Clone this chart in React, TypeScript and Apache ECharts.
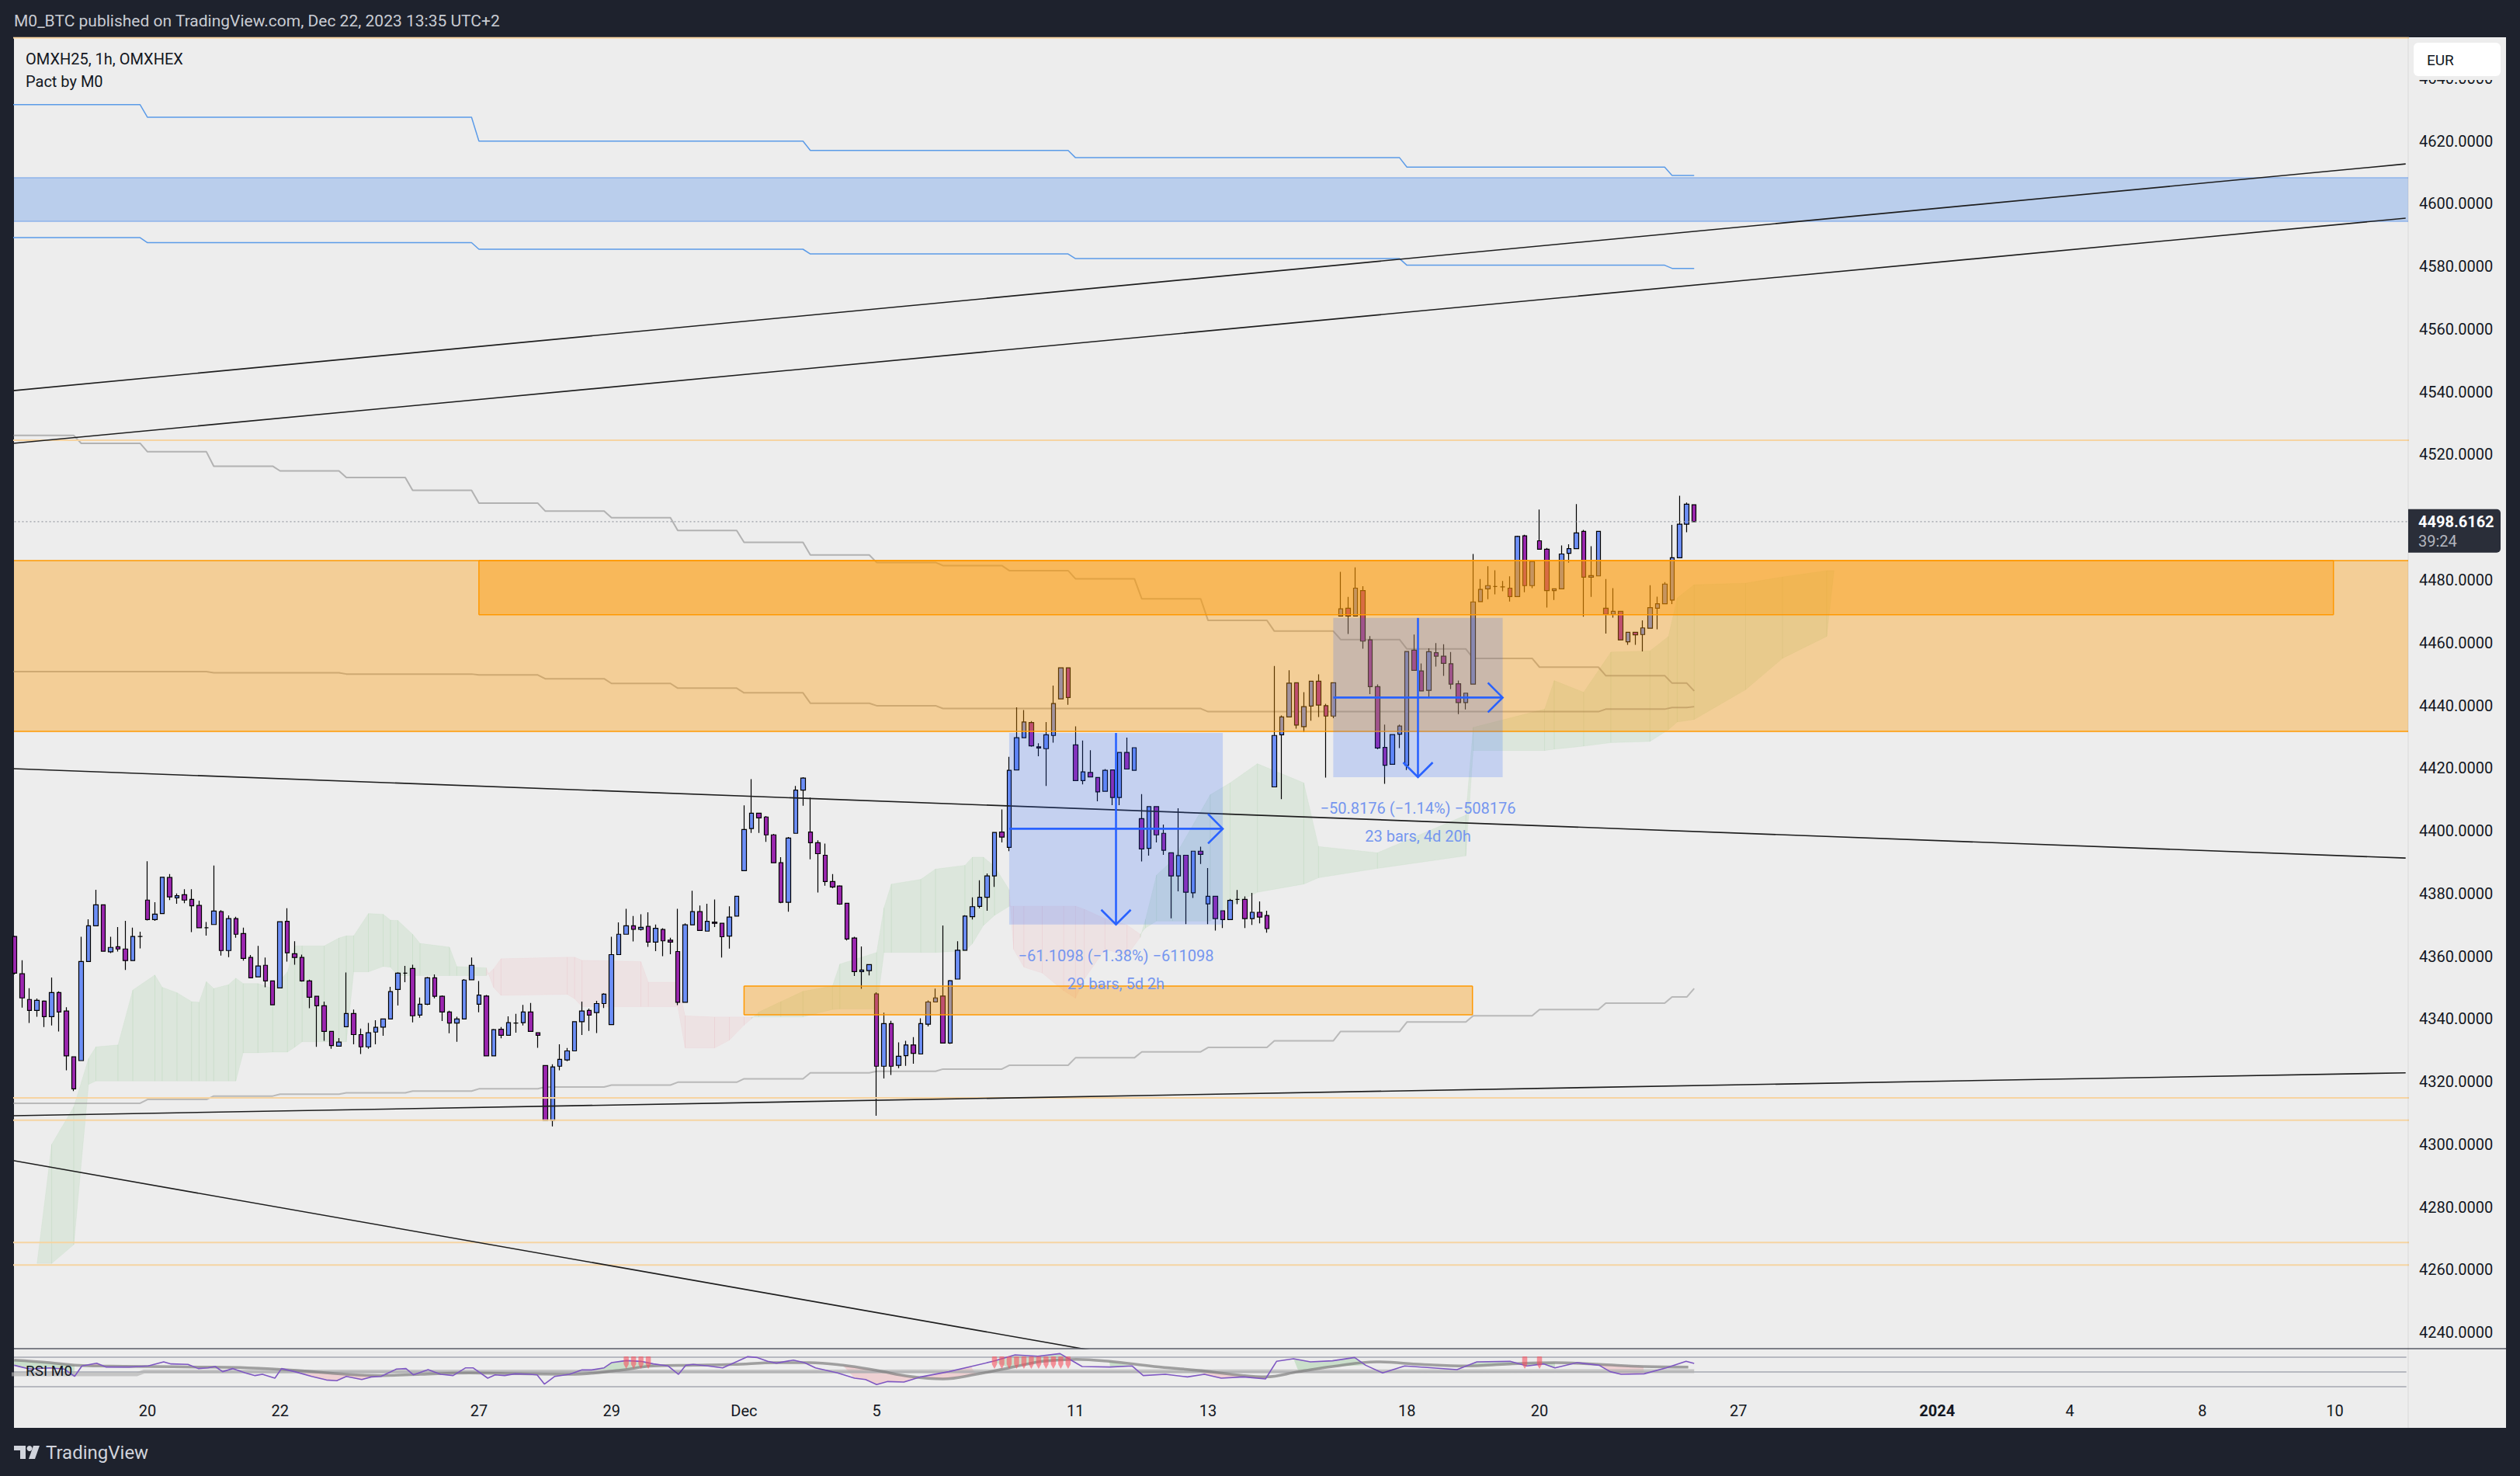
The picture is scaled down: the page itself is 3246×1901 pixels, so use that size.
import React, { useEffect, useRef } from "react";
import * as echarts from "echarts";

// ---------------- data ----------------
const tradingDays = [
  "2023-11-16", "2023-11-17", "2023-11-20", "2023-11-21", "2023-11-22", "2023-11-23", "2023-11-24",
  "2023-11-27", "2023-11-28", "2023-11-29", "2023-11-30", "2023-12-01", "2023-12-04", "2023-12-05",
  "2023-12-07", "2023-12-08", "2023-12-11", "2023-12-12", "2023-12-13", "2023-12-14", "2023-12-15",
  "2023-12-18", "2023-12-19", "2023-12-20", "2023-12-21", "2023-12-22", "2023-12-27", "2023-12-28",
  "2023-12-29", "2024-01-02", "2024-01-03", "2024-01-04", "2024-01-05", "2024-01-08", "2024-01-09",
  "2024-01-10", "2024-01-11",
];
const BARS_PER_DAY = 9; // 10:00 .. 18:00 hourly bars
const tickDays = [
  "2023-11-20", "2023-11-22", "2023-11-27", "2023-11-29", "2023-12-01", "2023-12-05", "2023-12-11",
  "2023-12-13", "2023-12-18", "2023-12-20", "2023-12-27", "2024-01-02", "2024-01-04", "2024-01-08", "2024-01-10",
];
const tickLabels = ["20", "22", "27", "29", "Dec", "5", "11", "13", "18", "20", "27", "2024", "4", "8", "10"];
const priceTicks = [4240, 4260, 4280, 4300, 4320, 4340, 4360, 4380, 4400, 4420, 4440, 4460, 4480, 4500, 4520, 4540, 4560, 4580, 4600, 4620, 4640];

// hourly candles from Nov 16 10:00: [open, close, low, high]
const ohlc: number[][] = [
  [4366.3, 4354.6, 4354.2, 4366.5], [4354.4, 4346.7, 4343.6, 4358.7], [4346.2, 4342.7, 4338.7, 4349.8],
  [4342.7, 4345.9, 4340.7, 4346.5], [4345.7, 4340.7, 4337.4, 4345.9], [4340.7, 4348.4, 4337.9, 4353.2],
  [4348.4, 4342.2, 4336.0, 4348.8], [4342.5, 4328.2, 4323.6, 4343.7], [4327.9, 4317.7, 4317.0, 4328.0],
  [4326.7, 4358.3, 4326.7, 4366.2], [4358.3, 4369.7, 4358.3, 4371.8], [4369.7, 4376.4, 4369.7, 4381.2],
  [4376.4, 4361.6, 4361.6, 4376.4], [4361.4, 4362.8, 4361.0, 4366.2], [4363.0, 4362.3, 4361.5, 4369.3],
  [4362.3, 4358.6, 4355.6, 4371.3], [4358.6, 4366.3, 4358.6, 4369.1], [4366.3, 4366.3, 4362.5, 4367.8],
  [4377.9, 4371.7, 4371.4, 4390.3], [4371.7, 4373.4, 4371.3, 4377.2], [4373.6, 4385.2, 4373.6, 4385.3],
  [4385.1, 4378.9, 4377.9, 4386.2], [4378.6, 4379.3, 4376.7, 4380.0], [4379.6, 4377.9, 4376.9, 4381.4],
  [4378.1, 4376.1, 4367.7, 4381.4], [4376.2, 4369.1, 4369.1, 4377.7], [4369.1, 4369.1, 4366.6, 4370.9],
  [4370.1, 4374.4, 4370.1, 4388.9], [4374.2, 4361.8, 4360.2, 4374.7], [4361.8, 4372.0, 4359.7, 4373.0],
  [4372.0, 4367.0, 4365.9, 4372.6], [4367.2, 4359.3, 4358.6, 4369.1], [4359.6, 4353.1, 4353.1, 4360.4],
  [4353.4, 4356.9, 4353.4, 4363.3], [4357.1, 4352.1, 4350.1, 4359.6], [4352.1, 4344.5, 4344.5, 4352.1],
  [4349.9, 4371.0, 4349.9, 4371.0], [4371.1, 4361.1, 4358.3, 4375.3], [4360.8, 4359.6, 4357.3, 4364.8],
  [4359.6, 4352.1, 4351.9, 4360.5], [4352.1, 4346.9, 4343.4, 4352.5], [4347.2, 4344.2, 4331.1, 4347.2],
  [4344.2, 4336.0, 4333.0, 4345.5], [4336.0, 4331.5, 4330.5, 4336.0], [4331.3, 4332.6, 4331.3, 4333.9],
  [4337.5, 4341.7, 4337.5, 4354.8], [4341.7, 4335.0, 4331.9, 4343.0], [4335.0, 4331.1, 4328.8, 4336.9],
  [4331.1, 4335.6, 4330.5, 4338.7], [4335.8, 4337.3, 4331.9, 4339.6], [4337.4, 4340.0, 4334.6, 4340.0],
  [4340.0, 4348.7, 4340.0, 4350.2], [4349.4, 4354.6, 4344.3, 4354.9], [4354.6, 4354.6, 4351.7, 4356.9],
  [4356.1, 4341.0, 4338.9, 4357.3], [4341.2, 4344.7, 4340.4, 4346.8], [4344.7, 4353.1, 4344.4, 4353.4],
  [4353.1, 4347.2, 4346.6, 4354.2], [4347.2, 4342.2, 4339.3, 4347.5], [4342.2, 4338.7, 4335.4, 4342.6],
  [4338.7, 4340.0, 4332.7, 4340.7], [4340.0, 4352.4, 4340.0, 4352.7], [4352.5, 4357.1, 4352.5, 4359.6],
  [4344.7, 4347.6, 4342.1, 4352.1], [4347.3, 4328.2, 4328.2, 4347.6], [4328.2, 4336.6, 4328.2, 4336.8],
  [4336.7, 4334.8, 4333.8, 4337.4], [4334.8, 4338.8, 4334.8, 4340.8], [4338.7, 4338.7, 4335.6, 4341.6],
  [4338.8, 4342.2, 4337.9, 4344.5], [4342.2, 4336.0, 4336.0, 4345.1], [4335.6, 4334.8, 4330.8, 4335.6],
  [4325.1, 4307.6, 4307.6, 4325.1], [4307.6, 4324.7, 4305.7, 4325.5], [4324.9, 4327.1, 4323.6, 4331.9],
  [4326.9, 4329.8, 4326.5, 4330.7], [4329.8, 4339.1, 4329.8, 4339.1], [4339.1, 4342.5, 4334.9, 4345.5],
  [4342.7, 4341.2, 4336.2, 4343.3], [4342.0, 4344.9, 4335.5, 4345.8], [4344.9, 4347.9, 4343.5, 4348.2],
  [4338.2, 4360.5, 4338.2, 4366.2], [4360.5, 4367.0, 4360.5, 4370.8], [4367.0, 4369.7, 4367.0, 4375.1],
  [4369.7, 4368.6, 4364.7, 4372.8], [4368.6, 4369.2, 4368.2, 4373.4], [4369.5, 4364.5, 4363.0, 4374.0],
  [4364.5, 4368.9, 4361.6, 4370.1], [4368.5, 4364.9, 4360.0, 4368.9], [4365.1, 4364.5, 4360.6, 4365.9],
  [4361.5, 4345.3, 4344.4, 4375.1], [4345.3, 4370.0, 4345.3, 4370.5], [4370.0, 4374.2, 4370.0, 4380.9],
  [4374.2, 4368.2, 4368.2, 4376.2], [4368.0, 4371.1, 4368.0, 4376.7], [4370.9, 4370.5, 4369.3, 4378.1],
  [4370.5, 4366.2, 4359.6, 4370.5], [4366.4, 4372.5, 4362.4, 4375.9], [4372.8, 4379.1, 4372.8, 4379.1],
  [4387.3, 4400.4, 4387.3, 4408.1], [4400.7, 4405.6, 4399.3, 4416.5], [4405.6, 4404.1, 4399.3, 4405.6],
  [4404.4, 4398.7, 4396.5, 4404.7], [4398.7, 4389.8, 4389.8, 4399.0], [4389.8, 4377.2, 4376.9, 4391.6],
  [4377.2, 4397.7, 4374.2, 4398.0], [4399.2, 4413.0, 4399.2, 4414.3], [4413.0, 4416.8, 4408.0, 4417.1],
  [4399.6, 4396.2, 4390.9, 4410.6], [4396.2, 4392.7, 4380.3, 4397.0], [4392.2, 4383.8, 4382.5, 4395.9],
  [4383.8, 4382.1, 4381.7, 4386.2], [4382.4, 4376.6, 4376.4, 4382.6], [4376.9, 4365.5, 4365.0, 4376.9],
  [4365.8, 4355.1, 4353.7, 4366.2], [4355.1, 4355.6, 4349.6, 4363.1], [4355.4, 4357.3, 4353.9, 4357.3],
  [4348.0, 4324.9, 4309.1, 4348.5], [4324.9, 4338.5, 4321.0, 4342.0], [4338.5, 4324.9, 4322.1, 4339.4],
  [4325.2, 4328.1, 4324.3, 4332.5], [4328.3, 4331.7, 4325.0, 4333.0], [4331.7, 4329.0, 4325.7, 4334.2],
  [4328.8, 4338.5, 4328.8, 4340.2], [4338.3, 4345.4, 4337.6, 4345.9], [4345.4, 4346.7, 4345.4, 4349.7],
  [4347.3, 4332.3, 4332.3, 4369.8], [4332.3, 4352.2, 4332.0, 4352.4], [4352.7, 4361.9, 4352.7, 4364.8],
  [4361.9, 4372.8, 4361.9, 4373.1], [4372.6, 4375.8, 4371.7, 4378.8], [4375.9, 4378.8, 4375.3, 4384.2],
  [4378.8, 4385.6, 4374.5, 4386.4], [4385.6, 4399.5, 4382.1, 4399.5], [4399.6, 4398.0, 4396.3, 4406.8],
  [4394.7, 4419.3, 4393.5, 4423.6], [4419.4, 4429.7, 4419.4, 4439.4], [4429.7, 4434.7, 4429.7, 4438.5],
  [4434.5, 4427.1, 4426.8, 4435.0], [4426.8, 4426.4, 4423.8, 4427.9], [4426.2, 4430.6, 4414.3, 4434.7],
  [4430.4, 4440.6, 4428.1, 4446.3], [4442.1, 4452.0, 4442.1, 4452.0], [4452.0, 4442.5, 4440.2, 4452.0],
  [4427.4, 4416.0, 4416.0, 4433.3], [4416.0, 4418.8, 4414.8, 4428.8], [4418.6, 4417.2, 4417.2, 4425.7],
  [4417.0, 4412.4, 4409.4, 4417.0], [4412.6, 4419.3, 4412.6, 4419.7], [4419.4, 4410.6, 4408.2, 4419.4],
  [4410.6, 4425.0, 4408.2, 4425.0], [4425.0, 4419.7, 4419.7, 4429.7], [4419.3, 4426.5, 4419.3, 4426.5],
  [4403.9, 4394.2, 4390.2, 4411.7], [4394.4, 4407.7, 4392.1, 4407.7], [4407.7, 4398.7, 4396.3, 4407.7],
  [4399.2, 4393.8, 4392.3, 4402.0], [4393.0, 4385.6, 4372.1, 4393.0], [4385.6, 4392.1, 4380.7, 4407.2],
  [4392.2, 4380.4, 4370.2, 4392.2], [4380.2, 4393.5, 4378.6, 4393.5], [4393.5, 4392.5, 4389.4, 4394.9],
  [4376.7, 4379.1, 4370.2, 4388.1], [4379.1, 4372.0, 4368.2, 4379.1], [4374.5, 4371.7, 4369.0, 4374.5],
  [4371.7, 4377.8, 4371.5, 4378.3], [4378.1, 4378.1, 4376.6, 4381.1], [4378.1, 4372.0, 4369.0, 4379.1],
  [4372.0, 4374.0, 4370.0, 4380.2], [4374.0, 4372.5, 4370.5, 4377.5], [4373.0, 4368.8, 4367.5, 4374.5],
  [4414.0, 4430.4, 4414.0, 4452.6], [4430.6, 4436.3, 4410.1, 4436.8], [4436.3, 4447.1, 4436.3, 4451.2],
  [4447.2, 4433.7, 4432.6, 4447.2], [4433.2, 4439.6, 4431.5, 4444.2], [4439.8, 4447.7, 4435.1, 4447.7],
  [4447.7, 4440.1, 4436.3, 4449.9], [4439.9, 4436.6, 4417.0, 4440.5], [4436.6, 4447.2, 4435.9, 4447.2],
  [4468.5, 4470.8, 4468.5, 4482.6], [4471.0, 4468.5, 4462.8, 4474.6], [4468.5, 4477.4, 4468.5, 4484.0],
  [4476.6, 4460.5, 4458.1, 4478.0], [4460.9, 4446.0, 4443.6, 4462.1], [4446.0, 4426.4, 4426.0, 4446.7],
  [4426.6, 4420.9, 4415.0, 4433.9], [4421.2, 4430.7, 4421.2, 4430.7], [4430.8, 4433.4, 4426.4, 4433.9],
  [4420.9, 4457.2, 4419.4, 4457.2], [4457.6, 4451.2, 4451.2, 4462.6], [4451.0, 4444.6, 4444.6, 4453.4],
  [4444.8, 4457.1, 4442.3, 4458.2], [4456.8, 4455.7, 4452.4, 4459.9], [4455.7, 4453.4, 4449.4, 4459.5],
  [4453.3, 4446.8, 4445.2, 4457.0], [4446.9, 4440.9, 4437.2, 4447.9], [4440.9, 4443.9, 4438.7, 4443.9],
  [4446.8, 4473.0, 4446.8, 4488.3], [4473.1, 4477.0, 4473.1, 4480.3], [4477.2, 4478.2, 4473.9, 4484.4],
  [4477.9, 4477.9, 4475.4, 4483.1], [4477.8, 4477.8, 4476.4, 4479.7], [4477.4, 4474.7, 4473.1, 4481.2],
  [4474.7, 4493.9, 4474.6, 4494.1], [4494.1, 4478.2, 4476.1, 4494.4], [4478.2, 4485.9, 4477.4, 4485.9],
  [4492.5, 4489.8, 4489.8, 4502.5], [4489.8, 4476.6, 4471.2, 4490.2], [4476.6, 4477.2, 4473.6, 4477.2],
  [4477.2, 4488.3, 4477.2, 4491.0], [4488.5, 4490.0, 4485.5, 4491.4], [4490.0, 4495.0, 4490.0, 4504.2],
  [4495.5, 4480.9, 4468.3, 4496.0], [4480.9, 4481.4, 4474.6, 4490.8], [4481.3, 4495.5, 4481.3, 4495.5],
  [4471.0, 4469.0, 4462.9, 4480.3], [4469.0, 4470.0, 4468.0, 4477.4], [4470.0, 4460.9, 4460.9, 4470.0],
  [4460.3, 4463.3, 4459.3, 4463.3], [4463.3, 4462.5, 4459.3, 4463.3], [4462.6, 4464.7, 4457.2, 4467.1],
  [4464.6, 4471.2, 4464.6, 4478.3], [4471.0, 4472.4, 4464.3, 4474.7], [4472.4, 4478.7, 4472.4, 4479.3],
  [4473.6, 4487.1, 4472.3, 4497.6], [4487.1, 4497.8, 4487.1, 4506.9], [4497.8, 4504.2, 4495.2, 4504.7],
  [4504.0, 4498.6162, 4498.6, 4504.0],
];
const lastPrice = 4498.6162;
const countdown = "39:24";

// horizontal price levels (thin orange lines)
const hLevels = [4652.9, 4524.6, 4314.8, 4307.7, 4268.7, 4261.5];

// trend lines [bar1, price1, bar2, price2]
const trendLines = [
  [-0.23, 4540.4, 324.6, 4612.7],
  [-0.23, 4523.6, 324.6, 4595.4],
  [-0.23, 4419.8, 324.6, 4391.3],
  [-0.23, 4309.1, 324.6, 4322.8],
  [-0.23, 4294.8, 150, 4232.7],
];

// rectangles: [barFrom, barTo, top, bottom]
const zoneFrom = [-3, -3, 63, 99];
const zoneTo = [400, 400, 314.8, 197.9];
const zoneTop = [4608.3, 4486.2, 4486.2, 4350.5];
const zoneBottom = [4594.4, 4431.7, 4468.9, 4341.3];

// measurement tools
const measFrom = [135, 179];
const measTo = [164, 202];
const measStartPrice = [4431.2, 4467.9];
const measEndPrice = [4370.1, 4417.1];
const measLine1 = ["\u221261.1098 (\u22121.38%) \u2212611098", "\u221250.8176 (\u22121.14%) \u2212508176"];
const measLine2 = ["29 bars, 5d 2h", "23 bars, 4d 20h"];

// blue stepped levels
const blueStepBars = [0, 18, 63, 108, 144, 189, 225];
const blueUpper = [4631.6, 4627.6, 4620.0, 4617.0, 4614.7, 4611.7, 4609.0];
const blueLower = [4589.2, 4587.6, 4585.5, 4584.0, 4582.5, 4580.4, 4579.4];

// grey daily stepped lines (one value per trading day), plus value on last bar
const greyUpperDaily = [4526.1, 4523.6, 4520.9, 4516.3, 4514.8, 4512.7, 4508.6, 4504.5, 4502.0, 4499.9, 4495.8, 4492.0, 4488.0, 4485.6, 4484.6, 4483.0, 4480.4, 4474.0, 4467.1, 4463.7, 4461.0, 4458.0, 4455.0, 4452.2, 4449.5, 4447.1];
const greyUpperLast = 4444.6;
const greyMidDaily = [4450.8, 4450.8, 4450.8, 4450.4, 4450.4, 4450.0, 4450.0, 4449.7, 4448.5, 4447.0, 4445.5, 4444.0, 4440.7, 4439.9, 4439.0, 4439.0, 4439.0, 4439.0, 4438.0, 4438.0, 4438.0, 4438.0, 4438.0, 4438.0, 4438.8, 4439.3];
const greyMidLast = 4439.6;
const greyLowDaily = [4313.1, 4313.1, 4314.3, 4315.4, 4316.0, 4316.4, 4317.0, 4317.7, 4318.3, 4318.9, 4319.8, 4320.9, 4322.8, 4323.3, 4324.0, 4325.2, 4327.6, 4329.5, 4330.9, 4333.0, 4336.0, 4339.0, 4341.0, 4343.0, 4345.0, 4347.0];
const greyLowLast = 4349.7;

// ichimoku-like cloud vertices
const cloudBar = [3, 5, 8, 10, 11, 14, 16, 19, 20, 22, 24, 25, 26, 27, 29, 30, 31, 33, 35, 37, 38, 39, 42, 44, 45, 46, 48, 50, 51, 52, 54, 55, 59, 60, 64, 65, 66, 75, 76, 77, 85, 86, 90, 91, 95, 97, 99, 100, 101, 104, 107, 111, 112, 117, 118, 119, 123, 125, 129, 130, 131.5, 133, 135, 135.6, 137, 139.5, 142.4, 144, 145.2, 148, 151, 152.8, 153.5, 155, 157.2, 162.3, 165, 168.7, 175, 177, 185, 197, 198, 207.7, 209, 213, 216.7, 222, 224.5, 225.7, 228, 235, 240, 246, 247];
const cloudA = [4262, 4300, 4312, 4327.4, 4331.1, 4331.7, 4349.2, 4354.0, 4350.1, 4348.4, 4345.5, 4345.3, 4351.9, 4349.7, 4350.9, 4353.0, 4351.3, 4351.3, 4349.7, 4355, 4363.3, 4363.3, 4363.3, 4365.8, 4366.5, 4366.5, 4373.6, 4373.4, 4371.5, 4371.4, 4367, 4364.1, 4362.9, 4356.7, 4356.3, 4350, 4347.5, 4347.8, 4346.4, 4343.9, 4343.9, 4343.9, 4343.9, 4330.7, 4330.7, 4333.2, 4338, 4340, 4342.2, 4345.5, 4348.8, 4350.5, 4357.5, 4361.2, 4375.5, 4383, 4384.5, 4387.8, 4389, 4391.6, 4391.6, 4388.7, 4381.2, 4362.2, 4356.5, 4354.6, 4349, 4346.6, 4352.7, 4362.2, 4360.3, 4366, 4371.7, 4385.9, 4390.6, 4411.5, 4415.3, 4421.4, 4415.3, 4395, 4393, 4405, 4433, 4438.8, 4447.9, 4444.2, 4457, 4457.4, 4462, 4474.3, 4478.5, 4479, 4481, 4483, 4483];
const cloudB = [4262, 4262, 4268, 4319.1, 4320.2, 4320.2, 4320.2, 4320.2, 4320.2, 4320.2, 4320.2, 4320.2, 4320.2, 4320.2, 4320.2, 4320.2, 4329.2, 4329.2, 4329.4, 4329.4, 4331, 4332.7, 4332.7, 4332.7, 4332.7, 4355, 4355, 4356.7, 4356.5, 4353.8, 4353.8, 4353.8, 4353.8, 4353.8, 4353.8, 4356, 4359.2, 4359.7, 4359.7, 4358.7, 4358.3, 4351.7, 4351.7, 4341.0, 4340.6, 4340.6, 4340.6, 4340.6, 4340.6, 4340.6, 4340.6, 4343, 4343.2, 4343.2, 4361.2, 4361.2, 4361.2, 4361.2, 4361.7, 4364, 4369.8, 4373, 4375.9, 4376, 4376, 4376, 4376, 4376, 4375, 4372, 4370, 4367, 4369, 4371.2, 4371.2, 4371.2, 4376, 4380.4, 4383, 4385, 4388, 4392, 4425.6, 4425.6, 4426, 4427, 4428.1, 4428.5, 4432.2, 4434.7, 4435.5, 4445, 4455, 4462, 4483];

// RSI pane
const rsiBars = [-0.1, 2, 4.7, 6.7, 8.1, 9.1, 11.1, 12.4, 15.5, 16.8, 18.1, 20.2, 21.2, 23.5, 24.9, 26.2, 27.2, 28.2, 29.6, 31.3, 32.6, 33.6, 35.3, 36.2, 38, 40.3, 42.3, 43.7, 45, 47.1, 48.4, 49.7, 51.8, 53.1, 54.1, 56.1, 57.8, 59.5, 61.2, 62.2, 64.2, 65.2, 66.5, 67.9, 69.9, 70.9, 71.9, 73.3, 75.3, 77, 78.3, 80, 81, 83, 85, 86.7, 88.7, 90.1, 91.1, 92.1, 94.1, 96.1, 98.1, 99.5, 100.8, 102.2, 103.4, 105.7, 107.2, 108.7, 111.7, 114, 115.5, 117, 118.5, 120.7, 123, 126.8, 129.8, 132.8, 135.8, 138.9, 141.9, 143.4, 144.9, 148.7, 151.7, 153.2, 156.2, 159.2, 161.5, 163.8, 166.8, 169.8, 171.3, 173.6, 175.9, 178.9, 181.9, 183.4, 185.7, 188.7, 192.5, 195.8, 198.5, 203, 205.3, 207.6, 209.1, 212.1, 215.1, 216.6, 218.1, 221.2, 224.2, 226.9, 228];
const rsiVals = [59.1, 53.9, 55.6, 53.9, 44.0, 58.1, 61.9, 56.7, 56.7, 57.4, 58.1, 63.7, 60.9, 60.2, 54.6, 55.6, 57.4, 50.4, 54.6, 48.6, 45.1, 46.8, 41.6, 54.6, 50.4, 44.0, 39.1, 38.1, 44.0, 39.8, 43.3, 44.0, 53.9, 54.6, 46.1, 53.2, 46.8, 45.1, 55.6, 55.6, 41.6, 46.1, 45.1, 47.5, 46.8, 46.1, 33.5, 44.0, 46.8, 52.8, 52.8, 55.6, 62.6, 65.4, 64.4, 60.9, 58.1, 46.8, 59.1, 60.2, 58.1, 55.6, 64.4, 70.7, 69.6, 64.4, 62.0, 66.1, 62.6, 55.6, 48.6, 41.6, 39.8, 32.8, 37.0, 36.3, 43.3, 50.4, 57.4, 64.4, 73.2, 71.4, 74.9, 66.1, 57.4, 56.7, 58.1, 45.1, 46.8, 43.3, 46.8, 41.6, 43.3, 40.5, 64.4, 67.9, 63.7, 65.1, 69.6, 59.1, 48.6, 58.1, 55.6, 53.2, 63.7, 64.4, 58.1, 60.9, 55.6, 62.6, 59.1, 50.4, 46.8, 47.5, 55.6, 64.4, 61.6];
const rsiMaBars = [-0.1, 4.7, 8.1, 11.4, 18.1, 24.9, 31.6, 38.3, 45, 49.7, 55.1, 61.8, 68.6, 75.3, 82, 86.7, 92.1, 97.5, 103.4, 107.9, 112.4, 117, 121.5, 126, 130.5, 135, 139.6, 144.1, 148.6, 154.7, 160.7, 166.8, 169.8, 174.3, 178.9, 184.9, 191, 197, 203, 209.1, 215.1, 221.1, 227.2];
const rsiMaVals = [66.1, 62.6, 59.1, 58.1, 57.4, 56.7, 55.6, 52.1, 46.8, 45.1, 46.8, 48.6, 47.5, 46.8, 52.1, 58.1, 59.1, 60.2, 62.6, 62.6, 59.1, 52.1, 44.0, 40.5, 46.8, 55.6, 64.4, 67.2, 64.4, 57.4, 52.1, 45.1, 43.3, 50.4, 57.4, 63.7, 60.2, 58.1, 60.9, 62.6, 60.2, 57.4, 56.7];
const rsiBaseBars = [-1, 16.5, 17.5, 228];
const rsiBaseVals = [46.8, 46.8, 50.4, 51.0];
// fill regions between RSI and its average: [fromBar, toBar, 1 = green / 0 = red]
const rsiFillFrom = [-1, 8.5, 36, 78, 112, 132, 145, 160, 173, 196, 214];
const rsiFillTo = [8.5, 18, 50, 88, 131, 144, 153, 171, 184, 210, 224];
const rsiFillUp = [1, 0, 0, 1, 0, 1, 1, 0, 1, 1, 0];
const rsiBands = [70, 50, 30];
const rsiSignalBars = [83, 84, 85, 86, 133, 134, 135, 136, 137, 138, 139, 140, 141, 142, 143, 205, 207];

// ---------------- layout constants ----------------
const W = 3246;
const H = 1901;
const PANE_L = 18;
const PANE_R = 3102;
const MAIN_T = 48;
const MAIN_B = 1737;
const RSI_B = 1795;
const X_MIN = -0.1265;
const X_MAX = 324.95;
const Y_MIN = 4234.82;
const Y_MAX = 4653.11;
const RSI_MIN = 20.5;
const RSI_MAX = 81.6;
const FONT = "Roboto, 'Noto Sans', sans-serif";
const PANE_BG = "#ededed";

function stepLine(starts: number[], vals: number[], endBar: number, endVal: number) {
  const pts: number[][] = [];
  vals.forEach((v, k) => {
    const from = k === 0 ? -2 : starts[k];
    const to = k + 1 < vals.length ? starts[k + 1] - 1 : endBar - 1;
    pts.push([from, v], [to, v]);
  });
  pts.push([endBar, endVal]);
  return pts;
}

function lineSeries(data: number[][], color: string, width: number, z: number, extra: any = {}) {
  return {
    type: "line",
    data,
    xAxisIndex: 0,
    yAxisIndex: 0,
    symbol: "none",
    silent: true,
    z,
    lineStyle: { color, width, ...(extra.lineStyle || {}) },
    clip: true,
    animation: false,
  };
}

function buildOption() {
  const dayBar = (d: string) => tradingDays.indexOf(d) * BARS_PER_DAY;
  const tickBars = tickDays.map(dayBar);
  const labelByBar: Record<number, string> = {};
  tickBars.forEach((b, i) => (labelByBar[b] = tickLabels[i]));
  const dailyStarts = greyUpperDaily.map((_, k) => k * BARS_PER_DAY);
  const lastBar = ohlc.length - 1;

  const series: any[] = [];

  // cloud
  series.push({
    type: "custom",
    xAxisIndex: 0,
    yAxisIndex: 0,
    z: 1,
    silent: true,
    clip: true,
    data: cloudBar.slice(0, -1).map((b, i) => [b, cloudA[i], i]),
    encode: { x: 0, y: 1 },
    renderItem: (params: any, api: any) => {
      const i = api.value(2);
      const p1 = api.coord([cloudBar[i], cloudA[i]]);
      const p2 = api.coord([cloudBar[i + 1], cloudA[i + 1]]);
      const p3 = api.coord([cloudBar[i + 1], cloudB[i + 1]]);
      const p4 = api.coord([cloudBar[i], cloudB[i]]);
      const up = cloudA[i] + cloudA[i + 1] >= cloudB[i] + cloudB[i + 1];
      const fill = up ? "rgba(76,175,80,0.10)" : "rgba(242,54,69,0.06)";
      return { type: "polygon", shape: { points: [p1, p2, p3, p4] }, style: { fill, stroke: fill, lineWidth: 0.5 } };
    },
  });

  // grey stepped lines
  series.push(lineSeries(stepLine(dailyStarts, greyUpperDaily, lastBar, greyUpperLast), "rgba(130,130,130,0.55)", 2, 2));
  series.push(lineSeries(stepLine(dailyStarts, greyMidDaily, lastBar, greyMidLast), "rgba(130,130,130,0.55)", 2, 2));
  series.push(lineSeries(stepLine(dailyStarts, greyLowDaily, lastBar, greyLowLast), "rgba(150,150,150,0.6)", 2, 2));
  // blue stepped lines
  series.push(lineSeries(stepLine(blueStepBars, blueUpper, lastBar, blueUpper[blueUpper.length - 1]), "#5b9be8", 1.5, 2));
  series.push(lineSeries(stepLine(blueStepBars, blueLower, lastBar, blueLower[blueLower.length - 1]), "#5b9be8", 1.5, 2));

  // candles
  series.push({
    type: "candlestick",
    xAxisIndex: 0,
    yAxisIndex: 0,
    z: 3,
    silent: true,
    clip: true,
    barWidth: 6,
    data: ohlc.map((d, i) => [i, d[0], d[1], d[2], d[3]]),
    encode: { x: 0, y: [1, 2, 3, 4] },
    itemStyle: {
      color: "#6d8ff7",
      color0: "#9c27b0",
      borderColor: "#000000",
      borderColor0: "#000000",
      borderColorDoji: "#000000",
      borderWidth: 1.2,
    },
  });

  // zones (rectangles)
  const zoneFill = ["rgba(110,160,235,0.40)", "rgba(255,152,0,0.36)", "rgba(255,152,0,0.40)", "rgba(255,152,0,0.36)"];
  const zoneStroke = ["#8fb3ea", "#ff9800", "#ff9800", "#ff9800"];
  series.push({
    type: "custom",
    xAxisIndex: 0,
    yAxisIndex: 0,
    z: 4,
    silent: true,
    data: zoneFrom.map((b, i) => [b, zoneTop[i], i]),
    encode: { x: 0, y: 1 },
    renderItem: (params: any, api: any) => {
      const i = api.value(2);
      const cs = params.coordSys;
      const a = api.coord([zoneFrom[i], zoneTop[i]]);
      const b = api.coord([zoneTo[i], zoneBottom[i]]);
      const gx1 = cs.x;
      const gx2 = cs.x + cs.width;
      const x1 = Math.max(a[0], gx1);
      const x2 = Math.min(b[0], gx2);
      const y1 = a[1];
      const y2 = b[1];
      const st = { stroke: zoneStroke[i], lineWidth: 1.5 };
      const children: any[] = [
        { type: "rect", shape: { x: x1, y: y1, width: x2 - x1, height: y2 - y1 }, style: { fill: zoneFill[i] } },
        { type: "line", shape: { x1, y1, x2, y2: y1 }, style: st },
        { type: "line", shape: { x1, y1: y2, x2, y2 }, style: st },
      ];
      if (a[0] > gx1) children.push({ type: "line", shape: { x1, y1, x2: x1, y2 }, style: st });
      if (b[0] < gx2) children.push({ type: "line", shape: { x1: x2, y1, x2, y2 }, style: st });
      return { type: "group", children };
    },
  });

  // horizontal levels
  hLevels.forEach((lv) => series.push(lineSeries([[X_MIN - 1, lv], [X_MAX + 1, lv]], "#f6d4a2", 2, 5)));
  // trend lines
  trendLines.forEach((t) => series.push(lineSeries([[t[0], t[1]], [t[2], t[3]]], "#1e1e1e", 1.6, 5)));
  // last price dotted line
  series.push(lineSeries([[X_MIN - 1, lastPrice], [X_MAX + 1, lastPrice]], "#9a9da6", 1.2, 5, { lineStyle: { type: [2, 3] } }));

  // measurement tools
  series.push({
    type: "custom",
    xAxisIndex: 0,
    yAxisIndex: 0,
    z: 6,
    silent: true,
    data: measFrom.map((b, i) => [b, measStartPrice[i], i]),
    encode: { x: 0, y: 1 },
    renderItem: (params: any, api: any) => {
      const i = api.value(2);
      const a = api.coord([measFrom[i], measStartPrice[i]]);
      const b = api.coord([measTo[i], measEndPrice[i]]);
      const x1 = a[0], y1 = a[1], x2 = b[0], y2 = b[1];
      const xm = (x1 + x2) / 2;
      const ym = (y1 + y2) / 2;
      const st = { stroke: "#2962ff", lineWidth: 2.6, fill: null };
      const tfont = { fill: "#7596ef", fontSize: 20, fontFamily: FONT, align: "center", verticalAlign: "middle" };
      return {
        type: "group",
        children: [
          { type: "rect", shape: { x: x1, y: y1, width: x2 - x1, height: y2 - y1 }, style: { fill: "rgba(41,98,255,0.2)" } },
          { type: "line", shape: { x1, y1: ym, x2, y2: ym }, style: st },
          { type: "polyline", shape: { points: [[x2 - 19, ym - 19], [x2, ym], [x2 - 19, ym + 19]] }, style: st },
          { type: "line", shape: { x1: xm, y1, x2: xm, y2 }, style: st },
          { type: "polyline", shape: { points: [[xm - 19, y2 - 19], [xm, y2], [xm + 19, y2 - 19]] }, style: st },
          { type: "text", style: { text: measLine1[i], x: xm, y: y2 + 40, ...tfont } },
          { type: "text", style: { text: measLine2[i], x: xm, y: y2 + 76, ...tfont } },
        ],
      };
    },
  });

  // ---------------- RSI pane ----------------
  rsiBands.forEach((v) =>
    series.push({
      type: "line",
      xAxisIndex: 1,
      yAxisIndex: 1,
      data: [[X_MIN, v], [324.7, v]],
      symbol: "none",
      silent: true,
      z: 2,
      lineStyle: { color: "#a4a7b0", width: 1.5 },
    })
  );
  series.push({
    type: "custom",
    xAxisIndex: 1,
    yAxisIndex: 1,
    z: 2,
    silent: true,
    clip: true,
    data: rsiFillFrom.map((b, i) => [b, 50, i]),
    encode: { x: 0, y: 1 },
    renderItem: (params: any, api: any) => {
      const i = api.value(2);
      const s = rsiFillFrom[i];
      const e = rsiFillTo[i];
      const pts: number[][] = [];
      rsiBars.forEach((b, k) => {
        if (b >= s && b <= e) pts.push(api.coord([b, rsiVals[k]]));
      });
      const back: number[][] = [];
      rsiMaBars.forEach((b, k) => {
        if (b >= s && b <= e) back.push(api.coord([b, rsiMaVals[k]]));
      });
      if (pts.length + back.length < 3) return null;
      const fill = rsiFillUp[i] ? "rgba(76,175,80,0.22)" : "rgba(242,54,69,0.16)";
      return { type: "polygon", shape: { points: pts.concat(back.reverse()) }, style: { fill } };
    },
  });
  series.push({
    type: "line",
    xAxisIndex: 1,
    yAxisIndex: 1,
    data: rsiBaseBars.map((b, i) => [b, rsiBaseVals[i]]),
    symbol: "none",
    silent: true,
    z: 3,
    lineStyle: { color: "rgba(175,175,175,0.65)", width: 5 },
  });
  series.push({
    type: "line",
    xAxisIndex: 1,
    yAxisIndex: 1,
    data: rsiMaBars.map((b, i) => [b, rsiMaVals[i]]),
    symbol: "none",
    smooth: 0.4,
    silent: true,
    z: 3,
    lineStyle: { color: "rgba(125,125,125,0.7)", width: 3.5 },
  });
  series.push({
    type: "line",
    xAxisIndex: 1,
    yAxisIndex: 1,
    data: rsiBars.map((b, i) => [b, rsiVals[i]]),
    symbol: "none",
    silent: true,
    z: 4,
    lineStyle: { color: "#7e57c2", width: 1.6 },
  });
  series.push({
    type: "scatter",
    xAxisIndex: 1,
    yAxisIndex: 1,
    data: rsiSignalBars.map((b) => [b, 62.6]),
    symbol: "path://M2,0 L8,0 Q10,0 10,2 L10,20 L5,32 L0,20 L0,2 Q0,0 2,0 Z",
    symbolSize: [6.5, 16],
    silent: true,
    z: 5,
    itemStyle: { color: "rgba(247,82,95,0.75)" },
  });

  return {
    animation: false,
    backgroundColor: "transparent",
    grid: [
      { left: PANE_L, top: MAIN_T, width: PANE_R - PANE_L, height: MAIN_B - MAIN_T },
      { left: PANE_L, top: MAIN_B, width: PANE_R - PANE_L, height: RSI_B - MAIN_B },
    ],
    xAxis: [
      { type: "value", gridIndex: 0, min: X_MIN, max: X_MAX, show: false, splitLine: { show: false } },
      {
        type: "value",
        gridIndex: 1,
        min: X_MIN,
        max: X_MAX,
        axisLine: { show: false },
        axisTick: { show: false },
        splitLine: { show: false },
        axisLabel: {
          customValues: tickBars,
          margin: 12,
          color: "#131722",
          fontSize: 20,
          fontFamily: FONT,
          formatter: (v: number) => (labelByBar[v] === "2024" ? "{b|2024}" : labelByBar[v] || ""),
          rich: { b: { fontWeight: "bold", fontSize: 20, fontFamily: FONT, color: "#131722" } },
        },
      },
    ],
    yAxis: [
      {
        type: "value",
        gridIndex: 0,
        position: "right",
        min: Y_MIN,
        max: Y_MAX,
        axisLine: { show: false },
        axisTick: { show: false },
        splitLine: { show: false },
        axisLabel: {
          customValues: priceTicks,
          margin: 14,
          color: "#131722",
          fontSize: 20,
          fontFamily: FONT,
          formatter: (v: number) => v.toFixed(4),
        },
      },
      { type: "value", gridIndex: 1, min: RSI_MIN, max: RSI_MAX, show: false, splitLine: { show: false } },
    ],
    series,
  };
}

function buildGraphics(yPrice: number) {
  const txt = (x: number, y: number, text: string, size: number, fill: string, extra: any = {}) => ({
    type: "text",
    z: 100,
    style: { text, x, y, fill, fontSize: size, fontFamily: FONT, verticalAlign: "middle", align: "left", ...extra },
  });
  return [
    // frame lines
    { type: "line", z: 90, shape: { x1: PANE_L, y1: MAIN_B, x2: 3228, y2: MAIN_B }, style: { stroke: "#575a64", lineWidth: 1.5 } },
    { type: "line", z: 90, shape: { x1: PANE_R, y1: MAIN_T, x2: PANE_R, y2: 1839 }, style: { stroke: "rgba(0,0,0,0.08)", lineWidth: 1 } },
    // header
    txt(18, 27, "M0_BTC published on TradingView.com, Dec 22, 2023 13:35 UTC+2", 21, "#c9ccd3"),
    txt(33, 76, "OMXH25, 1h, OMXHEX", 20, "#131722"),
    txt(33, 105, "Pact by M0", 20, "#131722"),
    txt(33, 1765, "RSI M0", 19, "#131722"),
    // EUR box (covers the topmost price label)
    { type: "rect", z: 99, shape: { x: 3104, y: 90, width: 122, height: 13 }, style: { fill: PANE_BG } },
    { type: "rect", z: 100, shape: { x: 3109, y: 55, width: 112, height: 43, r: 6 }, style: { fill: "#ffffff" } },
    txt(3126, 77, "EUR", 19, "#131722"),
    // last price label
    { type: "rect", z: 100, shape: { x: PANE_R, y: yPrice - 16, width: 119, height: 56, r: [0, 5, 5, 0] }, style: { fill: "#2a2e39" } },
    txt(3115, yPrice, "4498.6162", 20, "#ffffff", { fontWeight: "bold" }),
    txt(3115, yPrice + 25, countdown, 20, "#b2b5be"),
    // TradingView logo
    { type: "rect", z: 100, shape: { x: 18, y: 1862, width: 15, height: 6 }, style: { fill: "#d1d4dc" } },
    { type: "rect", z: 100, shape: { x: 26, y: 1862, width: 7, height: 17 }, style: { fill: "#d1d4dc" } },
    { type: "circle", z: 100, shape: { cx: 38, cy: 1865.5, r: 3.5 }, style: { fill: "#d1d4dc" } },
    { type: "polygon", z: 100, shape: { points: [[43, 1862], [51, 1862], [45, 1879], [37, 1879]] }, style: { fill: "#d1d4dc" } },
    txt(59, 1871, "TradingView", 24, "#d1d4dc"),
  ];
}

export default function App() {
  const ref = useRef<HTMLDivElement>(null);
  useEffect(() => {
    document.body.style.margin = "0";
    const el = ref.current as HTMLDivElement;
    const chart = echarts.init(el, null, { renderer: "svg" });
    chart.setOption(buildOption() as any);
    const yPx = chart.convertToPixel({ yAxisIndex: 0 } as any, lastPrice) as unknown as number;
    chart.setOption({ graphic: buildGraphics(yPx) } as any);
    return () => chart.dispose();
  }, []);
  return (
    <div style={{ position: "absolute", left: 0, top: 0, width: W, height: H, background: "#1e222d", overflow: "hidden" }}>
      <div style={{ position: "absolute", left: PANE_L, top: MAIN_T, width: 3228 - PANE_L, height: 1839 - MAIN_T, background: PANE_BG }} />
      <div ref={ref} style={{ position: "absolute", left: 0, top: 0, width: W, height: H }} />
    </div>
  );
}
